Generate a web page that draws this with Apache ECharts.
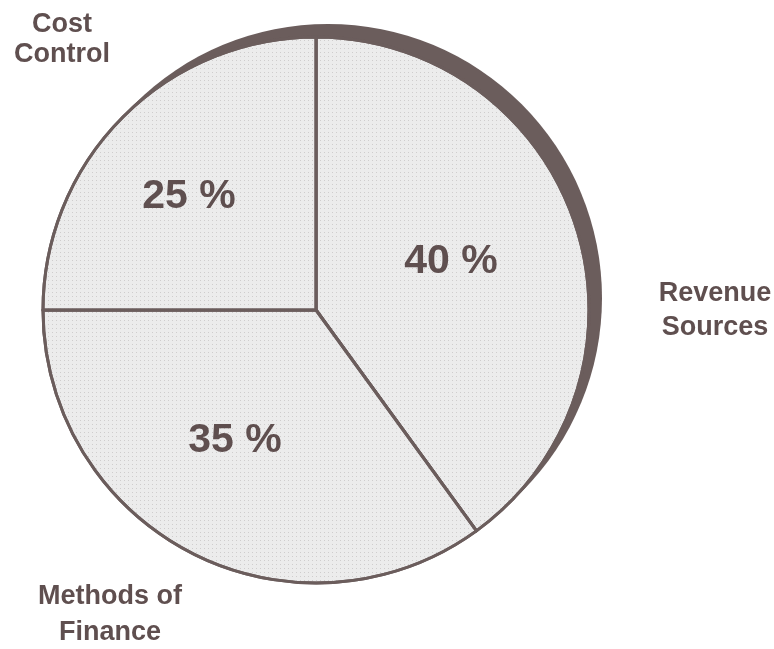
<!DOCTYPE html>
<html>
<head>
<meta charset="utf-8">
<script src="https://cdn.jsdelivr.net/npm/echarts@6/dist/echarts.min.js"></script>
<style>
  html, body { margin: 0; padding: 0; background: #ffffff; }
  #chart { width: 774px; height: 649px; }
</style>
</head>
<body>
<div id="chart"></div>
<script>
// Share of effort by area, in percent (clockwise from 12 o'clock)
const categories = ['Revenue Sources', 'Methods of Finance', 'Cost Control'];
const shares = [40, 35, 25];

// Where each slice's name and its percentage are written (px), and name line spacing
const nameSpots = [[715, 311], [110, 615], [62, 40]];
const nameLeading = [34, 36, 30];
const pctSpots = [[451, 262], [235, 441], [189, 197]];

const ink = '#5f4f4f';
const rim = '#6b5d5c';
const font = '"Liberation Sans", Arial, Helvetica, sans-serif';

const cx = 316, cy = 310, r = 273;
const total = shares.reduce((a, b) => a + b, 0);

const data = categories.map((name, i) => ({ name, value: shares[i] }));
const nameData = categories.map((name, i) => ({
  name,
  value: shares[i],
  label: { lineHeight: nameLeading[i] }
}));

const chart = echarts.init(document.getElementById('chart'), null, { renderer: 'canvas' });

chart.setOption({
  backgroundColor: '#ffffff',
  animation: false,
  series: [
    {
      // dark drop shadow behind the disc
      type: 'pie',
      silent: true,
      z: 1,
      center: [cx + 12, cy - 12],
      radius: r + 1,
      label: { show: false },
      labelLine: { show: false },
      itemStyle: { color: rim, borderWidth: 0 },
      emphasis: { disabled: true },
      data: [{ name: 'all', value: total }]
    },
    {
      type: 'pie',
      z: 2,
      silent: true,
      center: [cx, cy],
      radius: r,
      startAngle: 90,
      clockwise: true,
      itemStyle: {
        color: '#ececec',
        borderColor: rim,
        borderWidth: 3,
        decal: {
          symbol: 'rect',
          symbolSize: 1,
          dashArrayX: [[1, 3]],
          dashArrayY: [1, 3],
          color: 'rgba(120,110,110,0.25)'
        }
      },
      emphasis: { disabled: true },
      label: {
        show: true,
        position: 'inside',
        formatter: p => p.value + ' %',
        fontFamily: font,
        fontWeight: 'bold',
        fontSize: 41,
        color: ink,
        overflow: 'none'
      },
      labelLine: { show: false },
      labelLayout: p => ({
        x: pctSpots[p.dataIndex][0],
        y: pctSpots[p.dataIndex][1],
        align: 'center',
        verticalAlign: 'middle'
      }),
      data: data
    },
    {
      // transparent twin that carries the slice names outside the disc
      type: 'pie',
      z: 3,
      silent: true,
      center: [cx, cy],
      radius: r,
      startAngle: 90,
      clockwise: true,
      itemStyle: { color: 'rgba(0,0,0,0)', borderWidth: 0 },
      emphasis: { disabled: true },
      label: {
        show: true,
        position: 'outside',
        formatter: p => {
          const words = p.name.split(' ');
          if (words.length === 3) return words[0] + ' ' + words[1] + '\n' + words[2];
          return words.join('\n');
        },
        fontFamily: font,
        fontWeight: 'bold',
        fontSize: 27,
        lineHeight: 32,
        align: 'center',
        color: ink,
        width: 200,
        overflow: 'none'
      },
      labelLine: { show: false },
      labelLayout: p => ({
        x: nameSpots[p.dataIndex][0],
        y: nameSpots[p.dataIndex][1],
        align: 'center',
        verticalAlign: 'middle'
      }),
      data: nameData
    }
  ]
});
</script>
</body>
</html>
